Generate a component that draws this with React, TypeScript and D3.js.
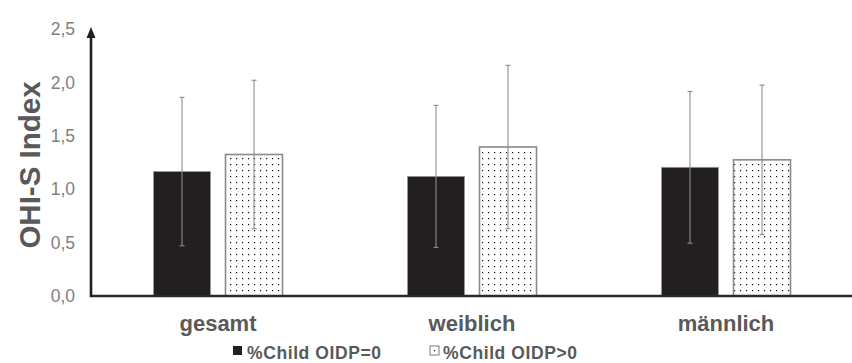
import React from "react";
import * as d3 from "d3";

const categories = ["gesamt", "weiblich", "männlich"];
const seriesNames = ["%Child OIDP=0", "%Child OIDP>0"];
const meansOIDP0 = [1.165, 1.12, 1.205];
const sdOIDP0 = [0.695, 0.665, 0.71];
const meansOIDP1 = [1.325, 1.395, 1.275];
const sdOIDP1 = [0.695, 0.765, 0.7];
const yTicks = [0, 0.5, 1.0, 1.5, 2.0, 2.5];

const W = 852;
const H = 363;

export default function App() {
  const y = d3.scaleLinear().domain([0, 2.5]).range([296, 29]);
  const x0 = d3.scaleBand<string>().domain(categories).range([91, 853]).padding(0);
  const x1 = d3
    .scaleBand<string>()
    .domain(seriesNames)
    .range([62.5, 191.5])
    .paddingInner(15 / 72)
    .paddingOuter(0);
  const bw = x1.bandwidth();
  const fmt = (v: number) => d3.format(".1f")(v).replace(".", ",");
  const series = [
    { name: seriesNames[0], means: meansOIDP0, sds: sdOIDP0 },
    { name: seriesNames[1], means: meansOIDP1, sds: sdOIDP1 },
  ];
  const font = "'Liberation Sans', Arial, sans-serif";

  return (
    <svg
      width={W}
      height={H}
      style={{ position: "absolute", left: 0, top: 0, background: "#fff" }}
      fontFamily={font}
    >
      <defs>
        <pattern id="dots" width={6} height={6} patternUnits="userSpaceOnUse">
          <rect width={6} height={6} fill="#fff" />
          <rect x={2} y={2} width={1.2} height={1.2} fill="#111" />
        </pattern>
      </defs>

      {/* y tick labels */}
      {yTicks.map((t) => (
        <text
          key={t}
          x={75}
          y={y(t)}
          dy="0.35em"
          textAnchor="end"
          fontSize={17.5}
          fill="#808080"
        >
          {fmt(t)}
        </text>
      ))}

      {/* y title */}
      <text
        transform={`translate(40,${165}) rotate(-90)`}
        textAnchor="middle"
        fontSize={29.5}
        fontWeight="bold"
        fill="#595959"
      >
        OHI-S Index
      </text>

      {/* bars */}
      {categories.map((c, i) =>
        series.map((s, k) => {
          const bx = (x0(c) as number) + (x1(s.name) as number);
          const m = s.means[i];
          const sd = s.sds[i];
          const cx = bx + bw / 2;
          return (
            <g key={c + k}>
              <rect
                x={bx}
                y={y(m)}
                width={bw}
                height={y(0) - y(m)}
                fill={k === 0 ? "#231f20" : "url(#dots)"}
                stroke={k === 0 ? "#9a9a9a" : "#8a8a8a"}
                strokeWidth={k === 0 ? 0.8 : 1.6}
              />
              <line x1={cx} x2={cx} y1={y(m + sd)} y2={y(m - sd)} stroke="#8c8c8c" strokeWidth={1.1} />
              <line x1={cx - 2.5} x2={cx + 2.5} y1={y(m + sd)} y2={y(m + sd)} stroke="#8c8c8c" strokeWidth={1.1} />
              <line x1={cx - 2.5} x2={cx + 2.5} y1={y(m - sd)} y2={y(m - sd)} stroke="#8c8c8c" strokeWidth={1.1} />
            </g>
          );
        })
      )}

      {/* x axis */}
      <line x1={90} x2={852} y1={y(0)} y2={y(0)} stroke="#2a2a2a" strokeWidth={2.6} />
      {/* y axis with arrow */}
      <line x1={91} x2={91} y1={y(0) + 1} y2={y(2.5) + 6} stroke="#231f20" strokeWidth={2.6} />
      <path d={`M${91 - 4.5},${y(2.5) + 9} L91,${y(2.5) - 2} L${91 + 4.5},${y(2.5) + 9} Z`} fill="#231f20" />

      {/* category labels */}
      {categories.map((c) => (
        <text
          key={c}
          x={(x0(c) as number) + x0.bandwidth() / 2}
          y={331}
          textAnchor="middle"
          fontSize={22}
          fontWeight="bold"
          fill="#595959"
        >
          {c}
        </text>
      ))}

      {/* legend */}
      <rect x={233} y={346} width={9} height={9} fill="#231f20" />
      <text x={247} y={359} fontSize={17.5} fontWeight="bold" fill="#595959" letterSpacing={0.6}>
        {seriesNames[0]}
      </text>
      <rect x={430} y={346} width={9} height={9} fill="#fff" stroke="#7a7a7a" strokeWidth={1} />
      <rect x={434} y={350} width={1.2} height={1.2} fill="#111" />
      <text x={443} y={359} fontSize={17.5} fontWeight="bold" fill="#595959" letterSpacing={0.6}>
        {seriesNames[1]}
      </text>
    </svg>
  );
}
